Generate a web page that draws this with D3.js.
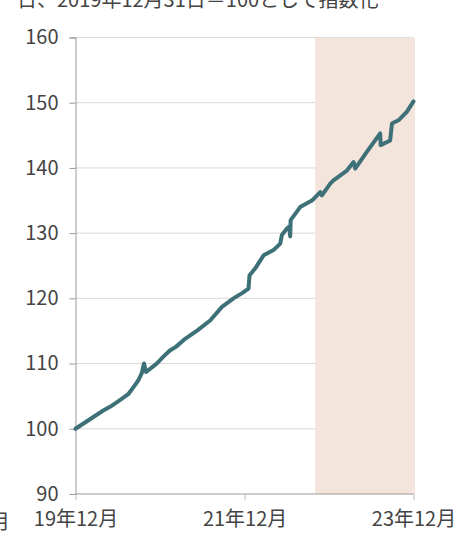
<!DOCTYPE html>
<html><head><meta charset="utf-8">
<script src="https://cdn.jsdelivr.net/npm/d3@7"></script>
<style>
html,body{margin:0;padding:0;background:#fff;}
svg{display:block;font-family:"Noto Sans CJK JP","Noto Sans",sans-serif;}
</style></head>
<body>
<svg id="chart" width="472" height="537"></svg>
<script>
const dates = ["2019-12-31","2020-02-20","2020-04-29","2020-05-30","2020-07-10","2020-08-15","2020-09-13","2020-09-27","2020-10-12","2020-10-22","2020-10-31","2020-12-16","2021-01-15","2021-02-11","2021-03-10","2021-04-18","2021-06-10","2021-08-04","2021-09-24","2021-11-13","2021-12-20","2022-01-17","2022-01-21","2022-02-15","2022-03-23","2022-05-05","2022-06-03","2022-06-10","2022-07-02","2022-07-12","2022-07-16","2022-07-18","2022-08-28","2022-10-18","2022-11-23","2022-11-30","2023-01-05","2023-01-19","2023-03-18","2023-04-16","2023-04-23","2023-06-13","2023-08-09","2023-08-11","2023-09-21","2023-09-29","2023-10-27","2023-12-02","2023-12-31"];
const values = [100.0,101.2,102.8,103.4,104.4,105.3,106.7,107.4,108.5,110.0,108.7,110.0,111.1,112.0,112.6,113.8,115.1,116.6,118.7,120.0,120.8,121.5,123.5,124.6,126.6,127.4,128.4,129.7,130.7,131.0,129.5,132.0,134.0,135.0,136.3,135.8,137.6,138.1,139.6,140.9,139.9,142.5,145.3,143.5,144.2,146.8,147.3,148.6,150.2];
const yTicks = [90,100,110,120,130,140,150,160];
const xTickDates = ["2019-12-31","2021-12-31","2023-12-31"];
const xTickLabels = ["19年12月","21年12月","23年12月"];
const shadeRange = ["2022-11-01","2023-12-31"];
const title = "日、2019年12月31日＝100として指数化";

const parse = d3.timeParse("%Y-%m-%d");
const data = dates.map((d,i)=>({date:parse(d), value:values[i]}));
const svg = d3.select("#chart");
const x = d3.scaleTime().domain([parse("2019-12-31"), parse("2023-12-31")]).range([75.5, 413.5]);
const y = d3.scaleLinear().domain([90,160]).range([494, 37.5]);
const txt = "#444";

// gridlines
svg.append("g").selectAll("line").data(yTicks.filter(t=>t>90)).join("line")
  .attr("x1", x.range()[0]).attr("x2", x.range()[1])
  .attr("y1", d=>y(d)).attr("y2", d=>y(d))
  .attr("stroke","#d9d9d9").attr("stroke-width",1);

// shaded period
svg.append("rect")
  .attr("x", x(parse(shadeRange[0]))).attr("y", y(160))
  .attr("width", x(parse(shadeRange[1])) - x(parse(shadeRange[0])) + 1.5)
  .attr("height", y(90) - y(160))
  .attr("fill","#f4e5dc");

// y axis
const yAxis = svg.append("g").attr("transform",`translate(${x.range()[0]},0)`)
  .call(d3.axisLeft(y).tickValues(yTicks).tickSize(6).tickPadding(11));
yAxis.select(".domain").attr("stroke","#999");
yAxis.selectAll(".tick line").attr("stroke","#999");
yAxis.selectAll(".tick text").attr("fill",txt).attr("font-size","20px").attr("font-family",'"Noto Sans CJK JP",sans-serif');

// x axis
const xAxis = svg.append("g").attr("transform",`translate(0,${y(90)})`)
  .call(d3.axisBottom(x).tickValues(xTickDates.map(parse)).tickFormat((d,i)=>xTickLabels[i]).tickSize(6).tickPadding(12));
xAxis.select(".domain").attr("stroke","#999").attr("d", `M${x.range()[0]},0H${x.range()[1]}`);
xAxis.selectAll(".tick line").attr("stroke","#bbb");
xAxis.selectAll(".tick text").attr("fill",txt).attr("font-size","20px").attr("font-family",'"Noto Sans CJK JP",sans-serif');

// line
svg.append("path").datum(data)
  .attr("fill","none").attr("stroke","#3d7077").attr("stroke-width",4)
  .attr("stroke-linejoin","round").attr("stroke-linecap","round")
  .attr("d", d3.line().x(d=>x(d.date)).y(d=>y(d.value)));

// title (cut at top)
svg.append("text").attr("x",17).attr("y",7).attr("fill",txt).attr("font-size","20px").text(title);
// cut-off neighbour label
svg.append("text").attr("x",-10).attr("y",529).attr("fill",txt).attr("font-size","20px").text("月");
</script>
</body></html>
